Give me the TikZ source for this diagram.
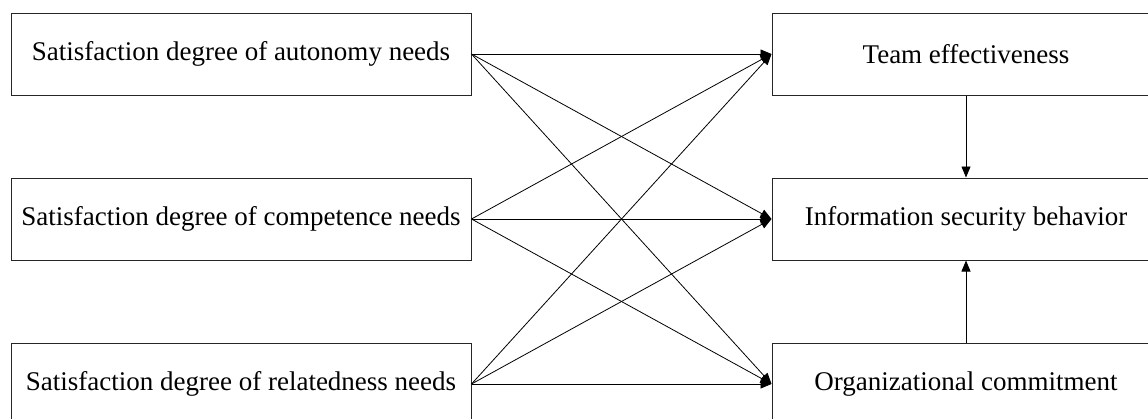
\documentclass[tikz,border=0pt]{standalone}
\usepackage{fontspec}
\setmainfont{Liberation Serif}
\usetikzlibrary{arrows.meta}
\begin{document}
\begin{tikzpicture}[x=1pt,y=-1pt,
  box/.style={draw=black!85,line width=1pt,rectangle,inner sep=0pt,font=\fontsize{27}{32}\selectfont},
  lbox/.style={box,minimum width=460pt,minimum height=82pt},
  rbox/.style={box,minimum width=388pt,minimum height=82pt},
  conn/.style={line width=0.8pt,-{Triangle[length=11pt,width=9pt]}}]
\useasboundingbox (0,0) rectangle (1148,418);
\clip (0,0) rectangle (1148,418);
\node[lbox] (a) at (241,54) {Satisfaction degree of autonomy needs};
\node[lbox] (c) at (241,219) {Satisfaction degree of competence needs};
\node[lbox] (r) at (241,384) {Satisfaction degree of relatedness needs};
\node[rbox] (t) at (966,54) {Team effectiveness};
\node[rbox] (i) at (966,219) {Information security behavior};
\node[rbox] (o) at (966,384) {Organizational commitment};
\foreach \s in {a,c,r}{
  \foreach \d in {t,i,o}{
    \draw[conn] (\s.east) -- (\d.west);
  }
}
\draw[conn] (t.south) -- (i.north);
\draw[conn] (o.north) -- (i.south);
\end{tikzpicture}
\end{document}
